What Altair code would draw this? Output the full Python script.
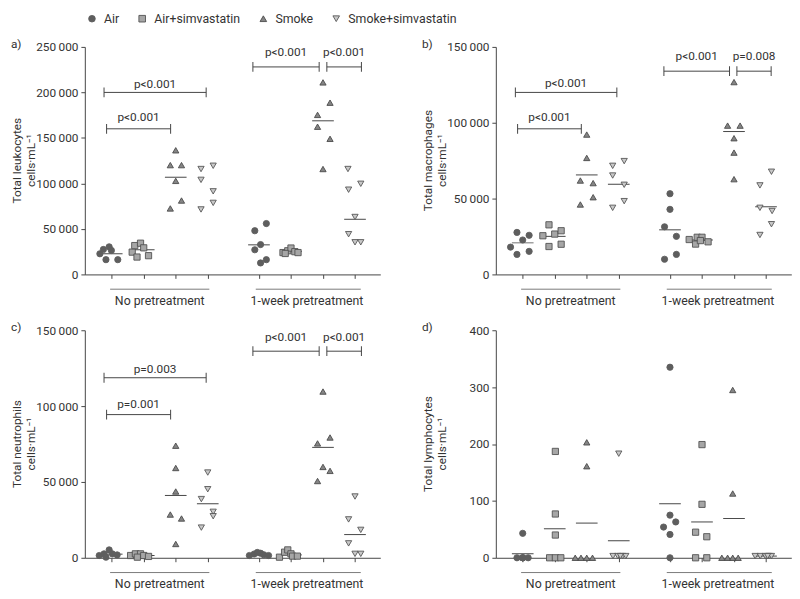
import altair as alt
import pandas as pd

groups = ["Air", "Air+simvastatin", "Smoke", "Smoke+simvastatin"]
pretreatments = ["No pretreatment", "1-week pretreatment"]
slot_positions = [0, 1, 2, 3, 4.6, 5.6, 6.6, 7.6]
axis_tick_positions = slot_positions
group_label_positions = [1.5, 6.1]
group_line_starts = [-0.05, 4.5]
group_line_ends = [3.05, 7.78]

# ---------- a) leukocytes ----------
leuko_values = [
    [22700, 27400, 30300, 26300, 16200, 16200],
    [24500, 31700, 34300, 29200, 19100, 20600],
    [136400, 120100, 120100, 102800, 81200, 72500],
    [115800, 119400, 103900, 91300, 78600, 71400],
    [48000, 27100, 32800, 55900, 16200, 12600],
    [24000, 26000, 29000, 25000, 24000, 23000],
    [211000, 188700, 175300, 162300, 149000, 115800],
    [115800, 99600, 93100, 63100, 44200, 35300, 35300],
]
leuko_offsets = [
    [-0.37, -0.26, -0.08, -0.01, -0.18, 0.19],
    [-0.36, -0.28, -0.10, 0.0, -0.21, 0.15],
    [0, -0.17, 0.18, 0, 0.18, -0.17],
    [-0.21, 0.17, -0.21, 0.17, 0.17, -0.21],
    [-0.13, -0.13, 0.05, 0.23, 0.23, 0.05],
    [-0.25, -0.1, 0.0, 0.12, 0.22, -0.18],
    [0, 0.22, -0.17, -0.17, 0.22, 0],
    [-0.22, 0.18, -0.2, 0, -0.2, 0, 0.18],
]
leuko_means = [22700, 27100, 106800, None, 32500, 25300, 168800, 60600]
leuko_p_x1 = [-0.16, -0.24, 4.41, 6.72]
leuko_p_x2 = [1.84, 2.95, 6.48, 7.8]
leuko_p_y = [160000, 200000, 228000, 228000]
leuko_p_text_y = [172400, 209600, 244600, 244600]
leuko_p_labels = ["p<0.001", "p<0.001", "p<0.001", "p<0.001"]

# ---------- b) macrophages ----------
macro_values = [
    [18000, 27700, 22700, 25800, 13200, 15200],
    [25500, 32700, 26600, 28800, 18400, 19900],
    [92200, 76800, 61900, 60200, 50900, 46100],
    [74700, 71600, 65200, 59100, 48300, 43900],
    [10000, 31400, 42900, 53200, 25100, 13200],
    [23000, 20000, 24500, 24500, 21500, 22300],
    [126800, 98100, 98100, 89800, 80300, 62800],
    [67700, 58700, 43900, 41800, 33100, 26000],
]
macro_offsets = [
    [-0.38, -0.18, 0, 0.2, -0.18, 0.2],
    [-0.37, -0.18, 0, 0.2, -0.18, 0.2],
    [0, 0, -0.2, 0.2, 0.2, -0.2],
    [0.17, -0.19, -0.19, 0.17, 0.17, -0.19],
    [-0.17, -0.17, 0, 0, 0.2, 0.2],
    [-0.4, -0.2, -0.15, 0.0, 0.19, -0.05],
    [0, -0.2, 0.19, 0, 0, 0],
    [0.17, -0.19, -0.19, 0.19, 0.17, -0.19],
]
macro_means = [20800, 25100, 65600, 59500, 29400, 22700, 94200, 44600]
macro_p_x1 = [-0.16, -0.23, 4.41, 6.69]
macro_p_x2 = [1.83, 2.94, 6.46, 7.76]
macro_p_y = [96000, 120000, 134000, 134000]
macro_p_text_y = [103500, 126200, 144200, 144200]
macro_p_labels = ["p<0.001", "p<0.001", "p<0.001", "p=0.008"]

# ---------- c) neutrophils ----------
neutro_values = [
    [1500, 2600, 5200, 2600, 1900, 400],
    [1500, 2600, 2600, 1500, 900, 400],
    [73900, 59200, 43700, 28500, 25900, 9100],
    [56200, 45200, 38700, 30300, 27400, 19900],
    [1500, 2500, 3500, 3000, 2000, 1500],
    [400, 3700, 5200, 2600, 1100, 1100],
    [109600, 79300, 75400, 59900, 57300, 50600],
    [40400, 25300, 18400, 9500, 2600, 2600],
]
neutro_offsets = [
    [-0.39, -0.24, -0.08, 0.02, 0.17, -0.18],
    [-0.41, -0.26, -0.1, 0, 0.15, -0.2],
    [0, 0, 0, -0.17, 0.18, 0],
    [0, 0, -0.2, 0.17, 0.17, -0.2],
    [-0.3, -0.15, -0.05, 0.05, 0.15, 0.3],
    [-0.36, -0.2, -0.1, 0, 0.05, 0.2],
    [0, 0.22, -0.17, 0, 0.22, -0.17],
    [0, -0.2, 0.18, -0.2, 0, 0.18],
]
neutro_means = [2400, 1500, 41100, 35700, 2400, 1900, 72800, 15300]
neutro_p_x1 = [-0.16, -0.24, 4.41, 6.72]
neutro_p_x2 = [1.84, 2.95, 6.48, 7.8]
neutro_p_y = [94400, 118700, 136200, 136200]
neutro_p_text_y = [101600, 124700, 145200, 145200]
neutro_p_labels = ["p=0.001", "p=0.003", "p<0.001", "p<0.001"]

# ---------- d) lymphocytes ----------
lympho_values = [
    [43, 0, 0, 0, 0, 0],
    [187, 77, 40, 0, 0, 0],
    [203, 161, 0, 0, 0, 0],
    [183, 3, 3, 3, 3, 3],
    [335, 75, 63, 54, 41, 0],
    [199, 94, 45, 37, 0, 0],
    [295, 113, 0, 0, 0, 0],
    [3, 3, 3, 3, 3, 3],
]
lympho_offsets = [
    [0, -0.18, 0, 0.17, 0, 0],
    [0.02, 0.02, 0.02, -0.16, 0.02, 0.19],
    [0, 0, -0.36, -0.18, 0, 0.18],
    [0, -0.18, -0.03, 0.12, 0.22, 0.05],
    [0, 0, 0.18, -0.2, 0, 0],
    [0, 0, -0.2, 0.15, -0.2, 0.15],
    [-0.04, -0.04, -0.38, -0.2, -0.04, 0.13],
    [-0.34, -0.18, -0.02, 0.1, 0.17, 0.05],
]
lympho_means = [7, 51, 61, 30, 95, 63, 69, 3]

FONT = "Roboto"
TXT = "#333333"
LINE = "#444444"
W, H = 300, 231

fill_colors = ["#5e5e5e", "#a6a6a6", "#858585", "#c8c8c8"]
stroke_colors = ["#5e5e5e", "#505050", "#4a4a4a", "#555555"]
shapes = ["circle", "square", "triangle-up", "triangle-down"]


def points_df(values, offsets):
    rows = []
    for slot, (vals, offs) in enumerate(zip(values, offsets)):
        for v, o in zip(vals, offs):
            rows.append({
                "group": groups[slot % 4],
                "pre": pretreatments[slot // 4],
                "x": slot_positions[slot] + o,
                "value": v,
            })
    return pd.DataFrame(rows)


def means_df(means):
    rows = []
    for slot, m in enumerate(means):
        if m is not None:
            rows.append({"x": slot_positions[slot], "value": m})
    return pd.DataFrame(rows)


def text_at(s, x, y, **kw):
    return alt.Chart(pd.DataFrame({"t": [s]})).mark_text(
        font=FONT, color=TXT, **kw
    ).encode(text="t:N", x=alt.value(x), y=alt.value(y))


def panel(letter, title, values, offsets, means, ymax, ystep,
          p_x1=None, p_x2=None, p_y=None, p_ty=None, p_lab=None):
    xscale = alt.Scale(domain=[-0.84, 8.39], nice=False, zero=False)
    yscale = alt.Scale(domain=[0, ymax], nice=False)
    xaxis = alt.Axis(values=axis_tick_positions, labels=False, title=None, grid=False,
                     tickSize=4, tickColor=LINE, domainColor=LINE, ticks=True)
    yaxis = alt.Axis(values=list(range(0, ymax + 1, ystep)), grid=False, tickSize=4,
                     tickColor=LINE, domainColor=LINE, labelColor=TXT, labelFont=FONT,
                     labelFontSize=12, labelPadding=3,
                     labelExpr="replace(format(datum.value, ','), ',', '\u2009')",
                     title=None)

    pts = alt.Chart(points_df(values, offsets)).mark_point(
        opacity=1, strokeWidth=0.9, size=40
    ).encode(
        x=alt.X("x:Q", scale=xscale, axis=xaxis),
        y=alt.Y("value:Q", scale=yscale, axis=yaxis),
        shape=alt.Shape("group:N", scale=alt.Scale(domain=groups, range=shapes),
                        legend=alt.Legend(title=None)),
        fill=alt.Fill("group:N", scale=alt.Scale(domain=groups, range=fill_colors),
                      legend=alt.Legend(title=None)),
        stroke=alt.Stroke("group:N", scale=alt.Scale(domain=groups, range=stroke_colors),
                          legend=alt.Legend(title=None)),
    )

    mean_lines = alt.Chart(means_df(means)).mark_tick(
        orient="horizontal", size=22, thickness=1, color=LINE, opacity=1
    ).encode(x=alt.X("x:Q", scale=xscale), y=alt.Y("value:Q", scale=yscale))

    glabels = pd.DataFrame({"x": group_label_positions, "x1": group_line_starts,
                            "x2": group_line_ends, "label": pretreatments})
    gl = alt.Chart(glabels).mark_rule(color="#7a7a7a", strokeWidth=1).encode(
        x=alt.X("x1:Q", scale=xscale), x2="x2:Q", y=alt.value(H + 15))
    gt = alt.Chart(glabels).mark_text(font=FONT, fontSize=12.5, color=TXT, baseline="middle").encode(
        x=alt.X("x:Q", scale=xscale), text="label:N", y=alt.value(H + 27))

    letter_mark = text_at(letter, -75, -3, fontSize=12, align="left", baseline="middle")
    t1 = text_at(title[0], -69, H / 2, fontSize=12, angle=270, align="center", baseline="middle")
    t2 = text_at(title[1], -55, H / 2, fontSize=12, angle=270, align="center", baseline="middle")

    layers = [gl, gt, letter_mark, t1, t2, mean_lines, pts]

    if p_x1 is not None:
        pdf = pd.DataFrame({"x1": p_x1, "x2": p_x2, "y": p_y, "ty": p_ty, "label": p_lab})
        pdf["xc"] = (pdf["x1"] + pdf["x2"]) / 2
        hline = alt.Chart(pdf).mark_rule(color=LINE, strokeWidth=1).encode(
            x=alt.X("x1:Q", scale=xscale), x2="x2:Q", y=alt.Y("y:Q", scale=yscale))
        cap1 = alt.Chart(pdf).mark_tick(orient="vertical", size=10, thickness=1, color=LINE, opacity=1).encode(
            x=alt.X("x1:Q", scale=xscale), y=alt.Y("y:Q", scale=yscale))
        cap2 = alt.Chart(pdf).mark_tick(orient="vertical", size=10, thickness=1, color=LINE, opacity=1).encode(
            x=alt.X("x2:Q", scale=xscale), y=alt.Y("y:Q", scale=yscale))
        ptxt = alt.Chart(pdf).mark_text(font=FONT, fontSize=12, color=TXT, baseline="middle").encode(
            x=alt.X("xc:Q", scale=xscale), y=alt.Y("ty:Q", scale=yscale), text="label:N")
        layers = [hline, cap1, cap2, ptxt] + layers

    return alt.layer(*layers).properties(width=W, height=H)


pa = panel("a)", ["Total leukocytes", "cells·mL⁻¹"], leuko_values, leuko_offsets, leuko_means,
           250000, 50000, leuko_p_x1, leuko_p_x2, leuko_p_y, leuko_p_text_y, leuko_p_labels)
pb = panel("b)", ["Total macrophages", "cells·mL⁻¹"], macro_values, macro_offsets, macro_means,
           150000, 50000, macro_p_x1, macro_p_x2, macro_p_y, macro_p_text_y, macro_p_labels)
pc = panel("c)", ["Total neutrophils", "cells·mL⁻¹"], neutro_values, neutro_offsets, neutro_means,
           150000, 50000, neutro_p_x1, neutro_p_x2, neutro_p_y, neutro_p_text_y, neutro_p_labels)
pd_ = panel("d)", ["Total lymphocytes", "cells·mL⁻¹"], lympho_values, lympho_offsets, lympho_means,
            400, 100)

chart = alt.concat(pa, pb, pc, pd_, columns=2, spacing={"row": 56.7, "column": 117.3},
                   bounds="flush").properties(
    padding={"left": 3, "top": 0, "right": 0, "bottom": 0}
).configure_view(stroke=None).configure_legend(
    orient="none", legendX=1, legendY=-35, direction="horizontal", padding=0,
    labelFont=FONT, labelFontSize=12.5, labelColor=TXT, symbolSize=45,
    labelOffset=6, columnPadding=17, symbolStrokeWidth=0.9, symbolOpacity=1
)

chart.save("out.html", embed_options={"renderer": "svg", "actions": False})
